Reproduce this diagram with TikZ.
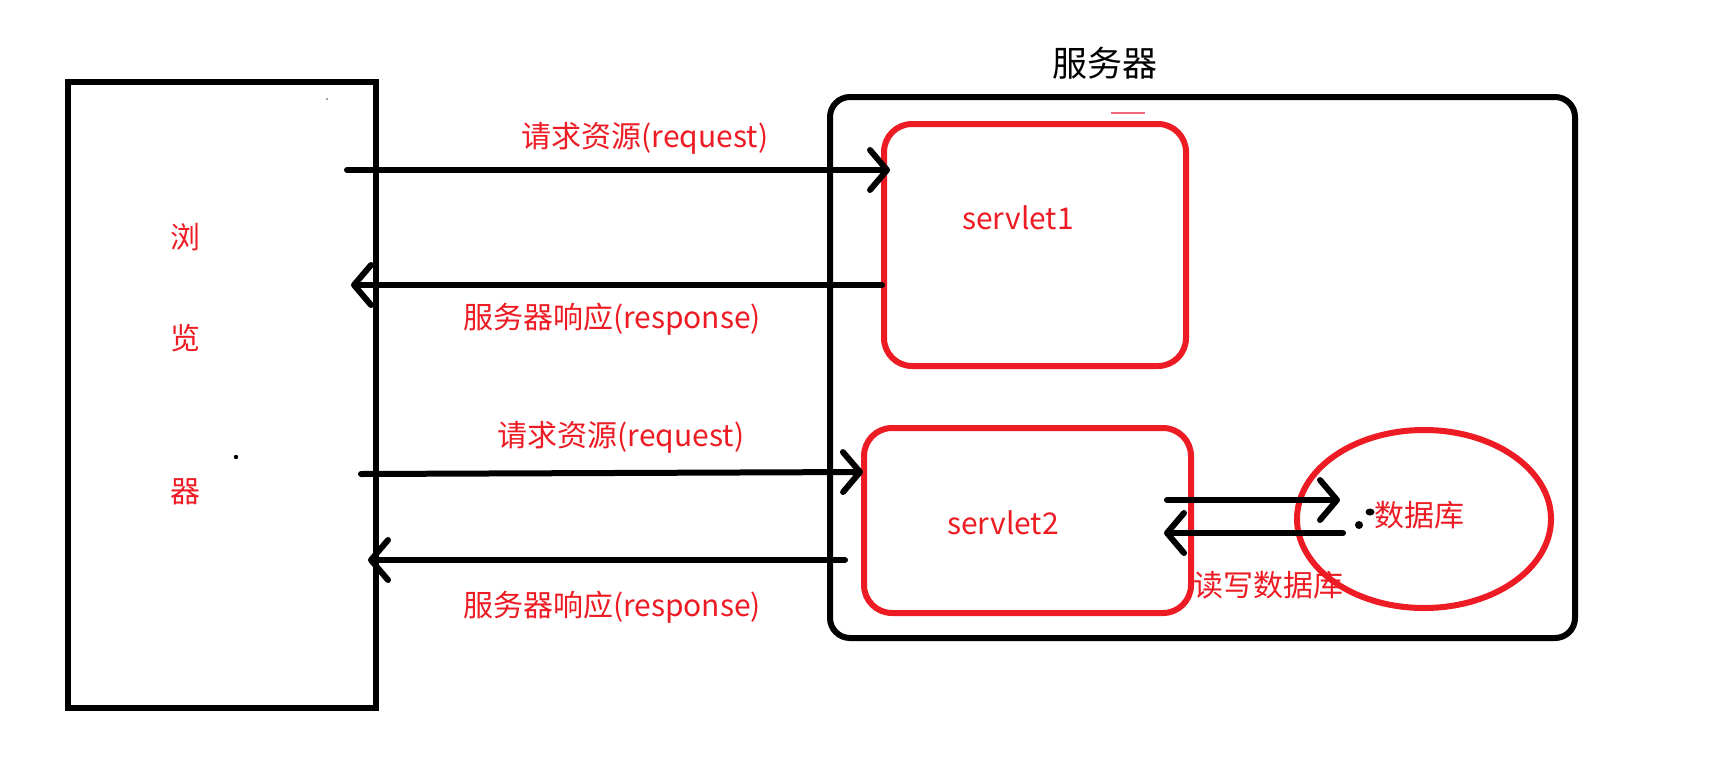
\documentclass[tikz,border=0pt]{standalone}
\usepackage{fontspec}
\setmainfont{Noto Sans CJK SC}
\usetikzlibrary{arrows.meta,shapes.geometric}
\definecolor{pred}{HTML}{ED1C24}
\definecolor{pinkline}{HTML}{F06878}
\begin{document}
\begin{tikzpicture}[x=1pt,y=-1pt,
  frame/.style={draw=black, line width=6pt, inner sep=0pt},
  redbox/.style={draw=pred, line width=6pt, rounded corners=28pt, inner sep=0pt},
  conn/.style={draw=black, line width=6pt, line cap=round, -{Straight Barb[length=17pt,width=40pt,line cap=round,line join=round]}},
  lbl/.style={text=pred, font=\fontsize{30}{34}\selectfont, inner sep=0pt},
  blbl/.style={text=black, font=\fontsize{35}{40}\selectfont, inner sep=0pt}]
\useasboundingbox (0,0) rectangle (1710,777);
\fill[white] (0,0) rectangle (1710,777);
% boxes
\node[frame, minimum width=308pt, minimum height=626pt] (browser) at (222,395) {};
\node[frame, rounded corners=20pt, minimum width=745pt, minimum height=541pt] (server) at (1202.5,367.5) {};
\node[redbox, minimum width=302pt, minimum height=242pt] (s1) at (1035,245) {};
\node[redbox, minimum width=327pt, minimum height=185pt] (s2) at (1027.5,520.5) {};
\node[ellipse, draw=pred, line width=6pt, minimum width=254pt, minimum height=178pt, inner sep=0pt] (db) at (1424,519) {};
% texts
\node[blbl] (servertxt) at (1105,63) {服务器};
\node[lbl] (b1) at (185,237) {浏};
\node[lbl] (b2) at (185,338) {览};
\node[lbl] (b3) at (185,492) {器};
\node[lbl] (s1txt) at (1018,218) {servlet1};
\node[lbl] (s2txt) at (1003,523) {servlet2};
\node[lbl] (dbtxt) at (1419,515) {数据库};
\node[lbl] (rwtxt) at (1268,585) {读写数据库};
\node[lbl] (req1) at (645,138) {请求资源(request)};
\node[lbl] (resp1) at (612,319) {服务器响应(response)};
\node[lbl] (req2) at (621,437) {请求资源(request)};
\node[lbl] (resp2) at (612,607) {服务器响应(response)};
% connector end points
\coordinate (r1s) at (347,170);  \coordinate (r1e) at (890,170);
\coordinate (p1s) at (882,285);  \coordinate (p1e) at (351,285);
\coordinate (r2s) at (361,474);  \coordinate (r2e) at (863,472);
\coordinate (p2s) at (845,560);  \coordinate (p2e) at (368,560);
\coordinate (d1s) at (1167,500); \coordinate (d1e) at (1340,500);
\coordinate (d2s) at (1343,533); \coordinate (d2e) at (1164,533);
\draw[conn] (r1s) -- (r1e);
\draw[conn] (p1s) -- (p1e);
\draw[conn] (r2s) -- (r2e);
\draw[conn] (p2s) -- (p2e);
\draw[conn] (d1s) -- (d1e);
\draw[conn] (d2s) -- (d2e);
% small marks
\draw[pinkline, line width=2pt] (1111,113) -- (1145,113);
\fill[black] (1359,525) circle (4pt);
\fill[black] (1370,512) ellipse (4.5pt and 3.5pt);
\fill[black] (236,457) circle (2.2pt);
\fill[gray] (327,99) circle (1.2pt);
\end{tikzpicture}
\end{document}
